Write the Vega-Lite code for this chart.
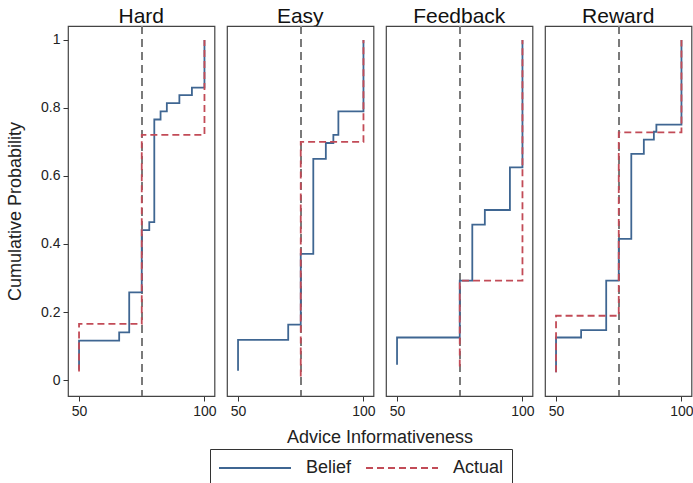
{
  "$schema": "https://vega.github.io/schema/vega-lite/v6.json",
  "padding": {"left": 6, "top": 6, "right": 2, "bottom": 0},
  "background": "white",
  "bounds": "flush",
  "data": {
    "values": [
      {"panel": "Hard", "series": "Belief", "x": 50, "p": 0.03},
      {"panel": "Hard", "series": "Belief", "x": 50, "p": 0.116},
      {"panel": "Hard", "series": "Belief", "x": 66, "p": 0.14},
      {"panel": "Hard", "series": "Belief", "x": 70, "p": 0.258},
      {"panel": "Hard", "series": "Belief", "x": 75, "p": 0.441},
      {"panel": "Hard", "series": "Belief", "x": 78, "p": 0.464},
      {"panel": "Hard", "series": "Belief", "x": 80, "p": 0.766},
      {"panel": "Hard", "series": "Belief", "x": 82.5, "p": 0.79},
      {"panel": "Hard", "series": "Belief", "x": 85, "p": 0.814},
      {"panel": "Hard", "series": "Belief", "x": 90, "p": 0.838},
      {"panel": "Hard", "series": "Belief", "x": 95, "p": 0.86},
      {"panel": "Hard", "series": "Belief", "x": 100, "p": 1.0},
      {"panel": "Hard", "series": "Actual", "x": 50, "p": 0.025},
      {"panel": "Hard", "series": "Actual", "x": 50, "p": 0.165},
      {"panel": "Hard", "series": "Actual", "x": 75, "p": 0.721},
      {"panel": "Hard", "series": "Actual", "x": 100, "p": 1.0},
      {"panel": "Easy", "series": "Belief", "x": 50, "p": 0.027},
      {"panel": "Easy", "series": "Belief", "x": 50, "p": 0.118},
      {"panel": "Easy", "series": "Belief", "x": 70, "p": 0.163},
      {"panel": "Easy", "series": "Belief", "x": 75, "p": 0.371},
      {"panel": "Easy", "series": "Belief", "x": 80, "p": 0.65},
      {"panel": "Easy", "series": "Belief", "x": 85, "p": 0.697},
      {"panel": "Easy", "series": "Belief", "x": 88, "p": 0.721},
      {"panel": "Easy", "series": "Belief", "x": 90, "p": 0.79},
      {"panel": "Easy", "series": "Belief", "x": 100, "p": 1.0},
      {"panel": "Easy", "series": "Actual", "x": 75, "p": 0.01},
      {"panel": "Easy", "series": "Actual", "x": 75, "p": 0.7},
      {"panel": "Easy", "series": "Actual", "x": 100, "p": 1.0},
      {"panel": "Feedback", "series": "Belief", "x": 50, "p": 0.045},
      {"panel": "Feedback", "series": "Belief", "x": 50, "p": 0.125},
      {"panel": "Feedback", "series": "Belief", "x": 75, "p": 0.292},
      {"panel": "Feedback", "series": "Belief", "x": 80, "p": 0.457},
      {"panel": "Feedback", "series": "Belief", "x": 85, "p": 0.5},
      {"panel": "Feedback", "series": "Belief", "x": 95, "p": 0.625},
      {"panel": "Feedback", "series": "Belief", "x": 100, "p": 1.0},
      {"panel": "Feedback", "series": "Actual", "x": 75, "p": 0.04},
      {"panel": "Feedback", "series": "Actual", "x": 75, "p": 0.292},
      {"panel": "Feedback", "series": "Actual", "x": 100, "p": 1.0},
      {"panel": "Reward", "series": "Belief", "x": 50, "p": 0.023},
      {"panel": "Reward", "series": "Belief", "x": 50, "p": 0.125},
      {"panel": "Reward", "series": "Belief", "x": 60, "p": 0.147},
      {"panel": "Reward", "series": "Belief", "x": 70, "p": 0.292},
      {"panel": "Reward", "series": "Belief", "x": 75, "p": 0.415},
      {"panel": "Reward", "series": "Belief", "x": 80, "p": 0.665},
      {"panel": "Reward", "series": "Belief", "x": 85, "p": 0.707},
      {"panel": "Reward", "series": "Belief", "x": 89, "p": 0.73},
      {"panel": "Reward", "series": "Belief", "x": 90, "p": 0.751},
      {"panel": "Reward", "series": "Belief", "x": 100, "p": 1.0},
      {"panel": "Reward", "series": "Actual", "x": 50, "p": 0.023},
      {"panel": "Reward", "series": "Actual", "x": 50, "p": 0.189},
      {"panel": "Reward", "series": "Actual", "x": 75, "p": 0.728},
      {"panel": "Reward", "series": "Actual", "x": 100, "p": 1.0}
    ]
  },
  "facet": {
    "column": {
      "field": "panel",
      "type": "nominal",
      "sort": ["Hard", "Easy", "Feedback", "Reward"],
      "title": "Advice Informativeness",
      "header": {
        "labelOrient": "top",
        "titleOrient": "bottom",
        "labelFontSize": 21,
        "labelFont": "Liberation Sans",
        "labelColor": "#111",
        "labelPadding": -1,
        "titleFontSize": 18,
        "titleFont": "Liberation Sans",
        "titleFontWeight": "normal",
        "titleColor": "#222",
        "titlePadding": 1
      }
    }
  },
  "spacing": 12,
  "spec": {
    "width": 146.5,
    "height": 370,
    "layer": [
      {
        "mark": {"type": "rule", "color": "#7a7a7a", "strokeDash": [8, 5], "strokeWidth": 1.2},
        "encoding": {"x": {"datum": 75, "type": "quantitative"}}
      },
      {
        "mark": {"type": "line", "interpolate": "step-after", "strokeWidth": 1.8},
        "encoding": {
          "x": {
            "field": "x",
            "type": "quantitative",
            "scale": {"domain": [45.6, 104], "nice": false, "zero": false},
            "axis": {"values": [50, 100], "title": null}
          },
          "y": {
            "field": "p",
            "type": "quantitative",
            "scale": {"domain": [-0.047, 1.041], "nice": false, "zero": false},
            "axis": {"values": [0, 0.2, 0.4, 0.6, 0.8, 1], "title": "Cumulative Probability", "format": "~g"}
          },
          "color": {
            "field": "series",
            "type": "nominal",
            "scale": {"domain": ["Belief", "Actual"], "range": ["#3f6692", "#c24b57"]},
            "legend": {"title": null}
          },
          "strokeDash": {
            "field": "series",
            "type": "nominal",
            "scale": {"domain": ["Belief", "Actual"], "range": [[1, 0], [7, 4]]},
            "legend": {"title": null}
          },
          "order": [{"field": "x", "type": "quantitative"}, {"field": "p", "type": "quantitative"}]
        }
      }
    ]
  },
  "config": {
    "font": "Liberation Sans",
    "view": {"stroke": "#444", "strokeWidth": 1.2},
    "axis": {
      "grid": false,
      "domain": false,
      "ticks": true,
      "tickColor": "#333",
      "tickSize": 5,
      "labelFontSize": 14,
      "labelColor": "#222",
      "labelFont": "Liberation Sans",
      "labelPadding": 3,
      "titleFont": "Liberation Sans",
      "titleFontSize": 18,
      "titleFontWeight": "normal",
      "titleColor": "#222",
      "titlePadding": 16
    },
    "axisY": {"labelFlush": false},
    "axisX": {"labelFlush": false},
    "legend": {
      "orient": "none",
      "legendX": 142,
      "legendY": 423,
      "direction": "horizontal",
      "strokeColor": "#333",
      "padding": 8,
      "symbolType": "M-1,0L6.2,0",
      "symbolSize": 400,
      "symbolStrokeWidth": 1.8,
      "labelFontSize": 18,
      "labelFont": "Liberation Sans",
      "labelColor": "#222",
      "columnPadding": 10,
      "labelOffset": 66
    }
  }
}
